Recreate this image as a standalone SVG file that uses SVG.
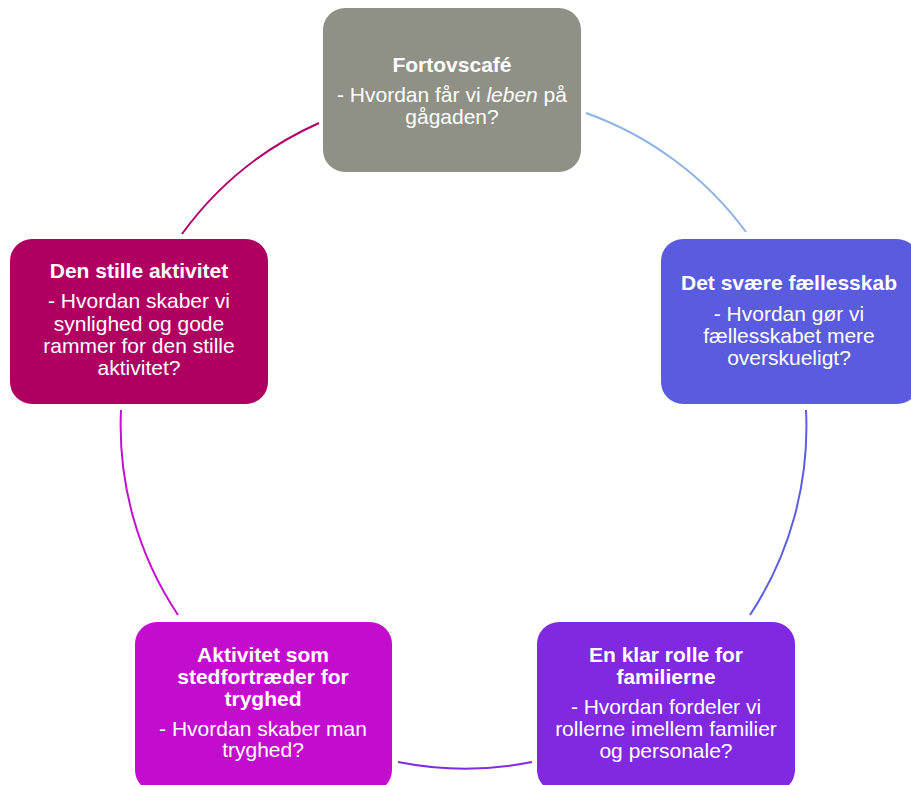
<svg xmlns="http://www.w3.org/2000/svg" width="911" height="785" viewBox="0 0 911 785">
<style>
text{font-family:"Liberation Sans",Arial,sans-serif;fill:#fff;text-anchor:middle;font-size:21px}
.t{font-weight:bold}
.c{fill:none;stroke-width:2}
</style>
<rect width="911" height="785" fill="#fff"/>
<g id="connectors">
<path class="c" stroke="#8DB3E2" d="M586,113 A341,341 0 0 1 746,232"/>
<path class="c" stroke="#5B5FE0" d="M806,410 A341,341 0 0 1 750,615"/>
<path class="c" stroke="#802BE0" d="M532,762 A341,341 0 0 1 398,762"/>
<path class="c" stroke="#C410D0" d="M178,615 A341,341 0 0 1 121,410"/>
<path class="c" stroke="#B0006A" d="M182,234 A341,341 0 0 1 319,123"/>
</g>
<g id="n1">
<rect x="323" y="8" width="258" height="164" rx="22" fill="#8F9187"/>
<text x="452" y="72" class="t">Fortovscafé</text>
<text x="452" y="102">- Hvordan får vi <tspan font-style="italic">leben</tspan> på</text>
<text x="452" y="124">gågaden?</text>
</g>
<g id="n2">
<rect x="661" y="239" width="258" height="165" rx="22" fill="#5B5BE0"/>
<text x="789" y="290" class="t">Det svære fællesskab</text>
<text x="789" y="321">- Hvordan gør vi</text>
<text x="789" y="343">fællesskabet mere</text>
<text x="789" y="365">overskueligt?</text>
</g>
<g id="n3">
<rect x="537" y="622" width="258" height="170" rx="22" fill="#8029E0"/>
<text x="666" y="662" class="t">En klar rolle for</text>
<text x="666" y="684" class="t">familierne</text>
<text x="666" y="714">- Hvordan fordeler vi</text>
<text x="666" y="736">rollerne imellem familier</text>
<text x="666" y="758">og personale?</text>
</g>
<g id="n4">
<rect x="135" y="622" width="257" height="170" rx="22" fill="#C30DCE"/>
<text x="263" y="662" class="t">Aktivitet som</text>
<text x="263" y="684" class="t">stedfortræder for</text>
<text x="263" y="706" class="t">tryghed</text>
<text x="263" y="736">- Hvordan skaber man</text>
<text x="263" y="757">tryghed?</text>
</g>
<g id="n5">
<rect x="10" y="239" width="258" height="165" rx="22" fill="#AF0062"/>
<text x="139" y="278" class="t">Den stille aktivitet</text>
<text x="139" y="308">- Hvordan skaber vi</text>
<text x="139" y="331">synlighed og gode</text>
<text x="139" y="353">rammer for den stille</text>
<text x="139" y="375">aktivitet?</text>
</g>
</svg>
